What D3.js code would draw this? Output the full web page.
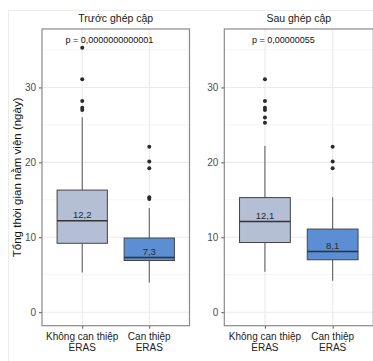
<!DOCTYPE html>
<html>
<head>
<meta charset="utf-8">
<script src="https://cdn.jsdelivr.net/npm/d3@7"></script>
<style>
  body { margin: 0; background: #fff; }
  text { font-family: "Liberation Sans", Arial, sans-serif; }
</style>
</head>
<body>
<div id="chart"></div>
<script>
// data
const panels = ["Trước ghép cập", "Sau ghép cập"];
const categories = ["Không can thiệp ERAS", "Can thiệp ERAS"];
const categoryLines = [["Không can thiệp", "ERAS"], ["Can thiệp", "ERAS"]];
const pLabels = ["p = 0,0000000000001", "p = 0,00000055"];
const pLabelX = [0.75, 0.81];
// [lower whisker, q1, median, q3, upper whisker]
const beforeBox = [[5.3, 9.2, 12.2, 16.3, 26.0], [3.95, 6.9, 7.3, 9.9, 13.9]];
const afterBox = [[5.4, 9.3, 12.1, 15.3, 22.2], [4.2, 7.0, 8.1, 11.1, 15.35]];
const beforeOutliers = [[35.3, 31.1, 28.2, 27.3, 27.0], [22.1, 20.1, 19.2, 15.35, 15.1]];
const afterOutliers = [[31.1, 28.2, 27.3, 27.0, 26.0, 25.3], [22.1, 20.1, 19.2]];
const beforeMedianLabels = ["12,2", "7,3"];
const afterMedianLabels = ["12,1", "8,1"];
const yTicks = [0, 10, 20, 30];
const yMinor = [5, 15, 25, 35];
const fills = ["#b4bed4", "#5b8ed2"];

const width = 373, height = 361;
const svg = d3.select("#chart").append("svg")
    .attr("width", width)
    .attr("height", height);

// faint outer frame
svg.append("line").attr("x1", 8).attr("x2", width).attr("y1", 10.5).attr("y2", 10.5)
    .attr("stroke", "#ececec").attr("stroke-width", 1);
svg.append("line").attr("x1", 8.5).attr("x2", 8.5).attr("y1", 10).attr("y2", height)
    .attr("stroke", "#ececec").attr("stroke-width", 1);

const panelTop = 29, panelBottom = 325.7;
const y = d3.scaleLinear().domain([-1.8, 37.8]).range([panelBottom, panelTop]);

const panelX = [[42, 189.5], [224.3, 373.3]];
const boxes = [beforeBox, afterBox];
const outliers = [beforeOutliers, afterOutliers];
const medLabels = [beforeMedianLabels, afterMedianLabels];

panels.forEach((title, pi) => {
    const [x0, x1] = panelX[pi];
    const x = d3.scalePoint().domain(categories).range([x0, x1]).padding(0.6);
    const step = x.step();
    const bw = step * 0.75;
    const g = svg.append("g");

    // grid
    g.selectAll(".minor").data(yMinor).enter().append("line")
        .attr("x1", x0).attr("x2", x1)
        .attr("y1", d => y(d)).attr("y2", d => y(d))
        .attr("stroke", "#f3f3f3").attr("stroke-width", 0.8);
    g.selectAll(".major").data(yTicks).enter().append("line")
        .attr("x1", x0).attr("x2", x1)
        .attr("y1", d => y(d)).attr("y2", d => y(d))
        .attr("stroke", "#ebebeb").attr("stroke-width", 1.1);
    g.selectAll(".vgrid").data(categories).enter().append("line")
        .attr("x1", d => x(d)).attr("x2", d => x(d))
        .attr("y1", panelTop).attr("y2", panelBottom)
        .attr("stroke", "#ebebeb").attr("stroke-width", 1.1);

    // y axis
    const yAxis = g.append("g")
        .attr("transform", "translate(" + x0 + ",0)")
        .call(d3.axisLeft(y).tickValues(yTicks).tickSize(3).tickPadding(3));
    yAxis.select(".domain").remove();
    yAxis.selectAll("line").attr("stroke", "#555");
    yAxis.selectAll("text").attr("fill", "#4d4d4d").style("font-size", "10px")
        .style("font-family", "'Liberation Sans', Arial, sans-serif");

    // x axis
    const xAxis = g.append("g")
        .attr("transform", "translate(0," + panelBottom + ")")
        .call(d3.axisBottom(x).tickSize(3).tickFormat(""));
    xAxis.select(".domain").remove();
    xAxis.selectAll("line").attr("stroke", "#555");
    categories.forEach((c, ci) => {
        categoryLines[ci].forEach((ln, li) => {
            g.append("text")
                .attr("x", x(c)).attr("y", panelBottom + 14 + li * 11)
                .attr("text-anchor", "middle")
                .attr("fill", "#222")
                .style("font-size", "10px")
                .text(ln);
        });
    });

    // boxes
    categories.forEach((c, ci) => {
        const [lo, q1, med, q3, hi] = boxes[pi][ci];
        const cx = x(c);
        g.append("line").attr("x1", cx).attr("x2", cx)
            .attr("y1", y(hi)).attr("y2", y(q3))
            .attr("stroke", "#555").attr("stroke-width", 1);
        g.append("line").attr("x1", cx).attr("x2", cx)
            .attr("y1", y(q1)).attr("y2", y(lo))
            .attr("stroke", "#555").attr("stroke-width", 1);
        g.append("rect")
            .attr("x", cx - bw / 2).attr("width", bw)
            .attr("y", y(q3)).attr("height", y(q1) - y(q3))
            .attr("fill", fills[ci])
            .attr("stroke", "#444").attr("stroke-width", 1);
        g.append("line").attr("x1", cx - bw / 2).attr("x2", cx + bw / 2)
            .attr("y1", y(med)).attr("y2", y(med))
            .attr("stroke", "#333").attr("stroke-width", 1.6);
        g.selectAll(".out" + ci).data(outliers[pi][ci]).enter().append("circle")
            .attr("cx", cx).attr("cy", d => y(d)).attr("r", 2)
            .attr("fill", "#2b2b2b");
        g.append("text")
            .attr("x", cx).attr("y", y(med) - 3)
            .attr("text-anchor", "middle")
            .attr("fill", "#2a2a2a")
            .style("font-size", "9.5px")
            .text(medLabels[pi][ci]);
    });

    // p label
    const first = x(categories[0]);
    g.append("text")
        .attr("x", first + (pLabelX[pi] - 1) * step)
        .attr("y", y(36) + 1)
        .attr("fill", "#111")
        .style("font-size", "9px")
        .text(pLabels[pi]);

    // panel border
    g.append("rect")
        .attr("x", x0).attr("y", panelTop)
        .attr("width", x1 - x0).attr("height", panelBottom - panelTop)
        .attr("fill", "none").attr("stroke", "#8a8a8a").attr("stroke-width", 1.2);

    // strip title
    g.append("text")
        .attr("x", (x0 + x1) / 2).attr("y", 22)
        .attr("text-anchor", "middle")
        .attr("fill", "#1a1a1a")
        .style("font-size", "10.5px")
        .text(title);
});

svg.append("text")
    .attr("transform", "translate(21," + (panelTop + panelBottom) / 2 + ") rotate(-90)")
    .attr("text-anchor", "middle")
    .attr("fill", "#111")
    .style("font-size", "11.5px")
    .text("Tổng thời gian nằm viện (ngày)");
</script>
</body>
</html>
